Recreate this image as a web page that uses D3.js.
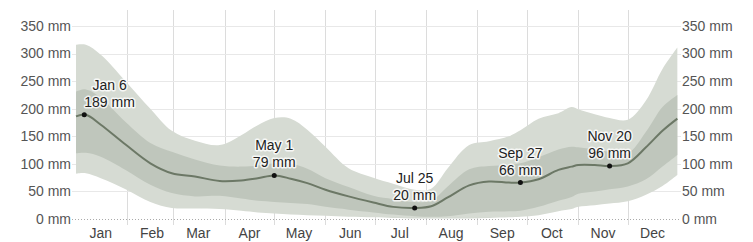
<!DOCTYPE html>
<html>
<head>
<meta charset="utf-8">
<script src="https://cdn.jsdelivr.net/npm/d3@7"></script>
<style>
	body { margin: 0; background: #fff; }
	svg { display: block; font-family: "Liberation Sans", Arial, sans-serif; }
</style>
</head>
<body>
<div id="playground"></div>
<script>
const months = ["Jan", "Feb", "Mar", "Apr", "May", "Jun", "Jul", "Aug", "Sep", "Oct", "Nov", "Dec"];
const yticks = [0, 50, 100, 150, 200, 250, 300, 350];

// day of year for each sample
const days = [0, 6, 15, 30, 45, 58, 72, 87, 100, 110, 120, 130, 140, 151, 165, 180, 192, 205, 215, 225, 238, 250, 262, 269, 280, 292, 300, 304, 314, 323, 334, 345, 355, 364];

const median = [186, 189, 171, 135, 101, 83, 77, 69, 70, 74, 79, 73, 65, 53, 41, 30, 22, 20, 23, 39, 61, 68, 66, 66, 72, 89, 95, 98, 98, 96, 101, 130, 160, 182];
const p25 = [119, 120, 113, 89, 62, 47, 41, 42, 37, 33, 31, 29, 27, 22, 17, 12, 8, 5, 4, 5, 10, 13, 14, 15, 22, 33, 40, 46, 50, 54, 59, 72, 95, 116];
const p75 = [231, 235, 220, 176, 138, 122, 108, 97, 95, 97, 101, 100, 91, 74, 58, 42, 36, 31, 33, 59, 90, 96, 98, 101, 112, 126, 131, 130, 126, 122, 119, 158, 203, 225];
const p10 = [82, 83, 74, 54, 31, 20, 19, 18, 15, 12, 10, 8, 7, 6, 4, 3, 2, 1, 1, 1, 1, 2, 3, 4, 7, 14, 18, 22, 25, 28, 32, 44, 60, 80];
const p90 = [316, 316, 298, 250, 200, 160, 142, 134, 152, 170, 183, 182, 162, 131, 92, 75, 64, 53, 55, 92, 134, 141, 150, 161, 182, 192, 203, 199, 190, 183, 180, 215, 272, 311];

const marks = [
	{ day: 5, label: "Jan 6", value: 189 },
	{ day: 120, label: "May 1", value: 79 },
	{ day: 205, label: "Jul 25", value: 20 },
	{ day: 269, label: "Sep 27", value: 66 },
	{ day: 323, label: "Nov 20", value: 96 },
];

const width = 753, height = 242;
const pleft = 76, pright = 679, ptop = 26, pbottom = 219;

const date = d => new Date(2023, 0, 1 + d);

const x = d3.scaleTime()
	.domain([new Date(2023, 0, 1), new Date(2024, 0, 1)])
	.range([pleft, pright]);

const y = d3.scaleLinear()
	.domain([0, 350])
	.range([pbottom, ptop]);

const svg = d3.select('#playground').append('svg')
	.attr('width', width)
	.attr('height', height);

// grid
const monthStarts = d3.range(1, 12).map(m => new Date(2023, m, 1));

svg.append('g')
	.selectAll('line')
	.data(monthStarts)
	.enter().append('line')
	.attr('x1', d => Math.round(x(d)) + 0.5)
	.attr('x2', d => Math.round(x(d)) + 0.5)
	.attr('y1', 10)
	.attr('y2', 225)
	.attr('stroke', '#dcdcdc');

svg.append('g')
	.selectAll('line')
	.data(yticks.filter(t => t > 0))
	.enter().append('line')
	.attr('x1', 72)
	.attr('x2', 681)
	.attr('y1', d => Math.round(y(d)) + 0.5)
	.attr('y2', d => Math.round(y(d)) + 0.5)
	.attr('stroke', '#e8e8e8');

// bands
const pts = days.map((d, i) => ({ t: date(d), i }));

const band = (lo, hi) => d3.area()
	.x(d => x(d.t))
	.y0(d => y(lo[d.i]))
	.y1(d => y(hi[d.i]))
	.curve(d3.curveCatmullRom.alpha(0.5));

svg.append('path')
	.attr('d', band(p10, p90)(pts))
	.attr('fill', '#d6dbd3');

svg.append('path')
	.attr('d', band(p25, p75)(pts))
	.attr('fill', '#bfc6bc');

svg.append('line')
	.attr('x1', 72)
	.attr('x2', 679)
	.attr('y1', Math.round(y(0)) + 0.5)
	.attr('y2', Math.round(y(0)) + 0.5)
	.attr('stroke', '#aaa')
	.attr('stroke-dasharray', '1,2');

svg.append('path')
	.attr('d', d3.line()
		.x(d => x(d.t))
		.y(d => y(median[d.i]))
		.curve(d3.curveCatmullRom.alpha(0.5))(pts))
	.attr('fill', 'none')
	.attr('stroke', '#6c7866')
	.attr('stroke-width', 2);

// axes labels
const ylab = (xpos, anchor) => svg.append('g')
	.selectAll('text')
	.data(yticks)
	.enter().append('text')
	.attr('x', xpos)
	.attr('y', d => y(d))
	.attr('dy', '0.35em')
	.attr('text-anchor', anchor)
	.attr('font-size', 14)
	.attr('fill', '#555')
	.text(d => `${d} mm`);

ylab(71, 'end');
ylab(682, 'start');

svg.append('g')
	.selectAll('text')
	.data(months)
	.enter().append('text')
	.attr('x', (d, i) => x(new Date(2023, i, 16)))
	.attr('y', 238)
	.attr('text-anchor', 'middle')
	.attr('font-size', 14)
	.attr('fill', '#444')
	.text(d => d);

// annotations
const ann = svg.append('g')
	.selectAll('g')
	.data(marks)
	.enter().append('g');

ann.append('circle')
	.attr('cx', d => x(date(d.day)))
	.attr('cy', d => y(d.value))
	.attr('r', 2.5)
	.attr('fill', '#111');

ann.each(function(d) {
	const g = d3.select(this);
	const px = x(date(d.day)), py = y(d.value);

	const t = g.append('text')
		.attr('font-size', 14)
		.attr('fill', '#222')
		.attr('text-anchor', 'middle')
		.attr('stroke', 'rgba(255,255,255,0.8)')
		.attr('stroke-width', 3)
		.attr('paint-order', 'stroke')
		.attr('stroke-linejoin', 'round');

	t.append('tspan').attr('y', py - 25).text(d.label);
	t.append('tspan').attr('y', py - 8).text(`${d.value} mm`);

	const w = d3.max(t.selectAll('tspan').nodes(), n => n.getComputedTextLength());
	const cx = (px - w / 2 < pleft + 4) ? px + w / 2 : px;

	t.selectAll('tspan').attr('x', cx);
});
</script>
</body>
</html>
